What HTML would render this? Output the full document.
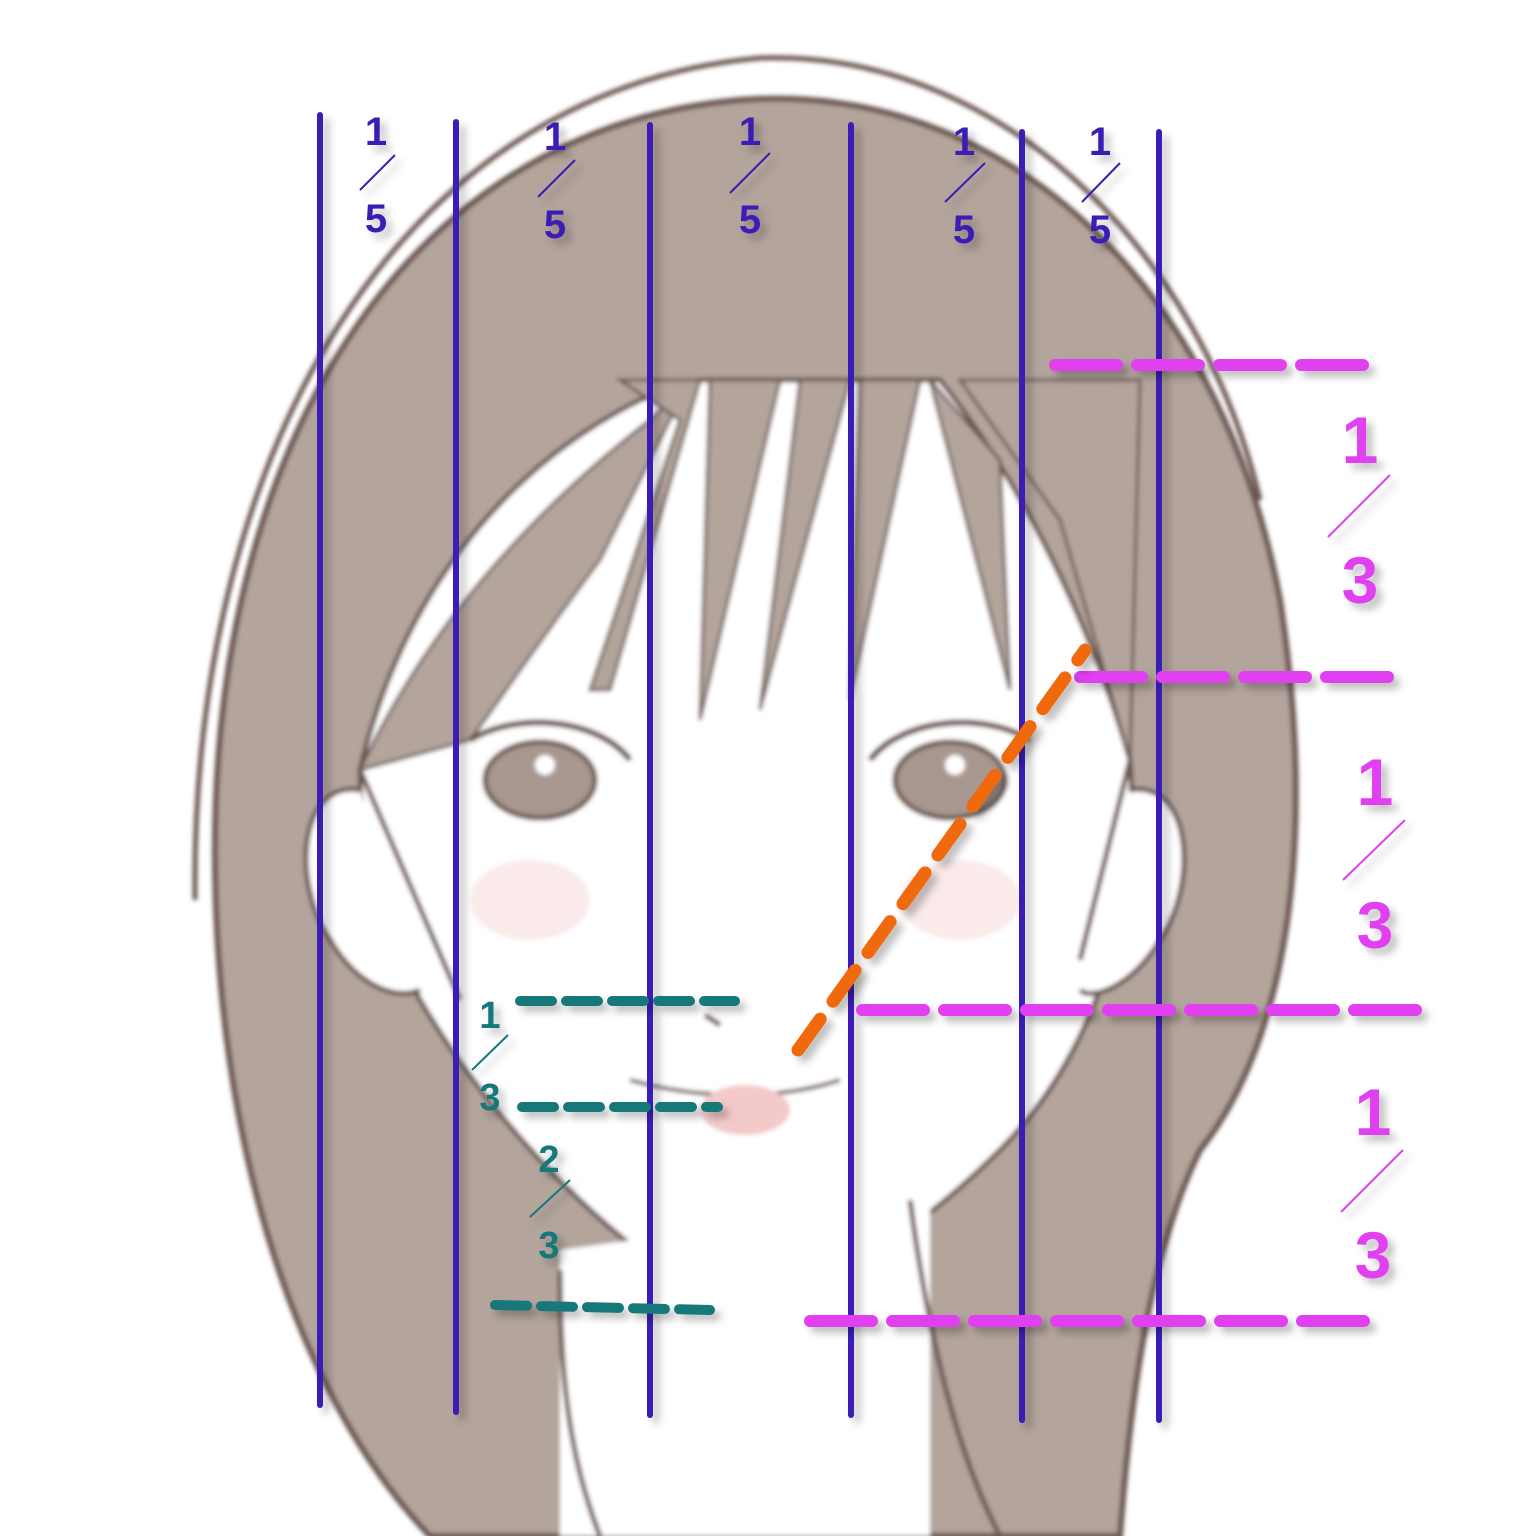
<!DOCTYPE html>
<html><head><meta charset="utf-8"><style>
html,body{margin:0;padding:0;background:#fff}
svg{display:block}
text{font-family:"Liberation Sans","DejaVu Sans",sans-serif;font-weight:bold}
</style></head><body>
<svg width="1536" height="1536" viewBox="0 0 1536 1536">
<defs>
<filter id="sh" x="-20%" y="-20%" width="140%" height="140%"><feDropShadow dx="6" dy="6" stdDeviation="4" flood-color="#000" flood-opacity="0.25"/></filter>
<filter id="bl"><feGaussianBlur stdDeviation="2"/></filter>
</defs>
<g filter="url(#bl)">
<path d="M195 900 C190 450 400 90 760 58 C1000 50 1200 250 1260 500" fill="none" stroke="#6b5450" stroke-width="5"/>
<path d="M430 1536 C300 1400 215 1150 215 850 C215 450 400 130 740 100 C1000 80 1220 280 1280 600 C1320 860 1280 1050 1200 1150 C1150 1250 1130 1400 1120 1536 Z" fill="#b3a49c" stroke="#6b5450" stroke-width="6"/>
<!-- face -->
<path d="M360 770 C400 600 500 470 640 400 L700 380 L940 380 C1020 480 1090 620 1130 760 C1140 900 1100 1050 1000 1150 C900 1250 800 1300 740 1305 C680 1300 520 1170 420 1000 C380 920 360 840 360 770 Z" fill="#fff" stroke="#6b5450" stroke-width="5"/>
<path d="M560 1250 L560 1536 L930 1536 L930 1200 Z" fill="#fff"/>
<path d="M910 1200 C930 1350 960 1460 1000 1536" fill="none" stroke="#6b5450" stroke-width="5"/>
<path d="M560 1270 C560 1380 570 1460 600 1536" fill="none" stroke="#6b5450" stroke-width="5"/>
<!-- bangs -->
<g fill="#b3a49c" stroke="#6b5450" stroke-width="3">
<path d="M360 770 C420 640 520 520 650 420 L690 380 L600 560 C540 640 500 700 470 740 Z"/>
<path d="M620 380 L700 380 L610 690 L590 690 L680 420 Z"/>
<path d="M710 380 L780 380 L700 720 Z"/>
<path d="M800 380 L850 380 L760 710 Z"/>
<path d="M860 380 L920 380 L850 700 Z"/>
<path d="M930 380 L1000 460 L1010 690 Z"/>
<path d="M960 380 L1060 520 L1130 760 L1140 380 Z"/>
</g>
<path d="M360 770 L460 1000" stroke="#6b5450" stroke-width="5" fill="none"/>
<path d="M1130 760 L1080 960" stroke="#6b5450" stroke-width="5" fill="none"/>
<path d="M360 790 C300 780 290 880 330 940 C360 990 400 1000 420 990" fill="#fff" stroke="#6b5450" stroke-width="5"/>
<path d="M1130 790 C1190 780 1200 880 1160 940 C1130 990 1090 1000 1080 990" fill="#fff" stroke="#6b5450" stroke-width="5"/>
<ellipse cx="540" cy="780" rx="55" ry="38" fill="#a8978f" stroke="#6b5450" stroke-width="5"/>
<ellipse cx="950" cy="780" rx="55" ry="38" fill="#a8978f" stroke="#6b5450" stroke-width="5"/>
<circle cx="545" cy="765" r="10" fill="#fff"/><circle cx="955" cy="765" r="10" fill="#fff"/>
<path d="M470 740 C520 710 600 720 630 760" fill="none" stroke="#6b5450" stroke-width="6"/>
<path d="M870 760 C900 720 980 710 1030 740" fill="none" stroke="#6b5450" stroke-width="6"/>
<ellipse cx="530" cy="900" rx="60" ry="40" fill="#fbeaea"/><ellipse cx="960" cy="900" rx="60" ry="40" fill="#fbeaea"/>
<path d="M705 1015 L720 1025" stroke="#6b5450" stroke-width="5"/>
<path d="M630 1080 C700 1100 780 1100 840 1080" fill="none" stroke="#6b5450" stroke-width="4"/>
<ellipse cx="745" cy="1110" rx="45" ry="25" fill="#f3c9c9"/>
</g>
<g filter="url(#sh)">
<line x1="320" y1="115" x2="320" y2="1405" stroke="#3a1fb5" stroke-width="6" stroke-linecap="round"/>
<line x1="456" y1="122" x2="456" y2="1412" stroke="#3a1fb5" stroke-width="6" stroke-linecap="round"/>
<line x1="650" y1="125" x2="650" y2="1415" stroke="#3a1fb5" stroke-width="6" stroke-linecap="round"/>
<line x1="851" y1="125" x2="851" y2="1415" stroke="#3a1fb5" stroke-width="6" stroke-linecap="round"/>
<line x1="1022" y1="132" x2="1022" y2="1420" stroke="#3a1fb5" stroke-width="6" stroke-linecap="round"/>
<line x1="1159" y1="132" x2="1159" y2="1420" stroke="#3a1fb5" stroke-width="6" stroke-linecap="round"/>
<g fill="#3a1fb5" font-size="40" text-anchor="middle">
<text x="376" y="145">1</text><line x1="360" y1="190" x2="395" y2="155" stroke="#3a1fb5" stroke-width="2"/><text x="376" y="232">5</text>
<text x="555" y="150">1</text><line x1="538" y1="197" x2="575" y2="160" stroke="#3a1fb5" stroke-width="2"/><text x="555" y="238">5</text>
<text x="750" y="145">1</text><line x1="730" y1="193" x2="770" y2="153" stroke="#3a1fb5" stroke-width="2"/><text x="750" y="233">5</text>
<text x="964" y="155">1</text><line x1="945" y1="202" x2="985" y2="163" stroke="#3a1fb5" stroke-width="2"/><text x="964" y="243">5</text>
<text x="1100" y="155">1</text><line x1="1082" y1="202" x2="1120" y2="163" stroke="#3a1fb5" stroke-width="2"/><text x="1100" y="243">5</text>
</g>
</g>
<g filter="url(#sh)" stroke="#e040f0" stroke-width="12" stroke-linecap="round" stroke-dasharray="62 20">
<line x1="1055" y1="365" x2="1370" y2="365"/>
<line x1="1080" y1="677" x2="1392" y2="677"/>
<line x1="862" y1="1010" x2="1422" y2="1010"/>
<line x1="810" y1="1321" x2="1370" y2="1321"/>
</g>
<g filter="url(#sh)" fill="#e040f0" font-size="66" text-anchor="middle">
<text x="1360" y="463">1</text><line x1="1328" y1="537" x2="1390" y2="475" stroke="#e040f0" stroke-width="2"/><text x="1360" y="603">3</text>
<text x="1375" y="805">1</text><line x1="1343" y1="880" x2="1405" y2="820" stroke="#e040f0" stroke-width="2"/><text x="1375" y="948">3</text>
<text x="1373" y="1135">1</text><line x1="1341" y1="1212" x2="1403" y2="1150" stroke="#e040f0" stroke-width="2"/><text x="1373" y="1278">3</text>
</g>
<line filter="url(#sh)" x1="798" y1="1050" x2="1085" y2="650" stroke="#f06a10" stroke-width="13" stroke-linecap="round" stroke-dasharray="38 22"/>
<g filter="url(#sh)" stroke="#127878" stroke-width="10" stroke-linecap="round" stroke-dasharray="32 14">
<line x1="520" y1="1001" x2="735" y2="1001"/>
<line x1="522" y1="1107" x2="718" y2="1107"/>
<line x1="495" y1="1305" x2="710" y2="1310"/>
</g>
<g filter="url(#sh)" fill="#127878" font-size="38" text-anchor="middle">
<text x="490" y="1028">1</text><line x1="472" y1="1070" x2="508" y2="1035" stroke="#127878" stroke-width="2"/><text x="490" y="1110">3</text>
<text x="549" y="1172">2</text><line x1="530" y1="1217" x2="570" y2="1180" stroke="#127878" stroke-width="2"/><text x="549" y="1258">3</text>
</g>
</svg>
</body></html>
